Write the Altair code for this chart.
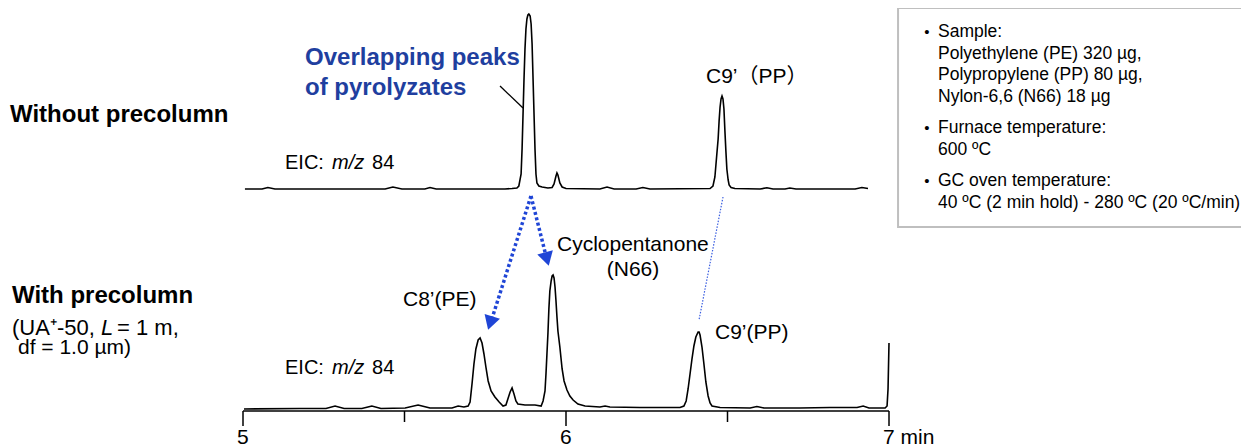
import altair as alt
import pandas as pd

# ---------------- data ----------------
# EIC m/z 84 without precolumn: retention time (min) and relative intensity
top_time = [5.006, 5.059, 5.077, 5.099, 5.440, 5.464, 5.492, 5.563, 5.579, 5.598,
            5.811, 5.833, 5.848, 5.854, 5.861, 5.864, 5.867, 5.870, 5.873, 5.876,
            5.879, 5.882, 5.885, 5.889, 5.892, 5.895, 5.898, 5.901, 5.904, 5.907,
            5.910, 5.916, 5.926, 5.944, 5.957, 5.963, 5.969, 5.972, 5.975, 5.981,
            5.988, 6.000, 6.105, 6.127, 6.149, 6.217, 6.238, 6.260, 6.446, 6.455,
            6.461, 6.467, 6.471, 6.474, 6.477, 6.480, 6.483, 6.486, 6.489, 6.492,
            6.495, 6.498, 6.502, 6.505, 6.511, 6.523, 6.601, 6.622, 6.641, 6.678,
            6.693, 6.712, 6.895, 6.916, 6.935]
top_int = [0, 0, 1.5, 0, 0, 2, 0, 0, 1.5, 0,
           0, 0.5, 1, 3, 15, 40, 75, 110, 140, 160,
           170, 174, 175, 173, 165, 145, 110, 75, 40, 15,
           6, 3, 2, 1, 1.5, 5, 13, 16, 14, 6,
           2, 0.5, 0, 2, 0, 0, 1.5, 0, 0.5, 3,
           12, 35, 50, 68, 82, 90, 93, 90, 80, 58,
           38, 20, 9, 4, 1.5, 0.5, 0, 1.2, 0, 0,
           1, 0, 0, 1.5, 0.5]

# EIC m/z 84 with precolumn
bot_time = [5.003, 5.176, 5.257, 5.285, 5.313, 5.368, 5.399, 5.427, 5.502, 5.542,
            5.579, 5.647, 5.666, 5.684, 5.697, 5.703, 5.709, 5.715, 5.721, 5.728,
            5.734, 5.740, 5.746, 5.752, 5.759, 5.768, 5.780, 5.793, 5.805, 5.814,
            5.820, 5.827, 5.833, 5.839, 5.845, 5.851, 5.873, 5.904, 5.923, 5.929,
            5.935, 5.938, 5.941, 5.944, 5.947, 5.950, 5.954, 5.957, 5.960, 5.963,
            5.966, 5.969, 5.972, 5.975, 5.981, 5.988, 5.994, 6.003, 6.012, 6.022,
            6.037, 6.059, 6.105, 6.121, 6.136, 6.229, 6.353, 6.365, 6.372, 6.378,
            6.384, 6.390, 6.396, 6.402, 6.409, 6.412, 6.415, 6.421, 6.427, 6.433,
            6.440, 6.446, 6.452, 6.477, 6.570, 6.591, 6.613, 6.724, 6.817, 6.901,
            6.920, 6.938, 6.988, 6.994, 6.997, 7.000]
bot_int = [0, 0.5, 0.5, 3, 0.5, 0.5, 3, 0.5, 1, 4,
           1, 1, 3, 2, 3, 7, 25, 45, 60, 69,
           71, 66, 55, 42, 28, 18, 12, 7, 3, 4,
           10, 17, 21, 15, 8, 5, 4, 4, 3, 8,
           18, 35, 55, 75, 100, 118, 128, 133, 134, 131,
           122, 108, 92, 78, 62, 40, 28, 19, 13, 9,
           5, 3, 2, 3, 2, 1.5, 1.5, 3, 8, 20,
           35, 50, 63, 72, 77, 77, 74, 62, 45, 27,
           13, 6, 3, 1.5, 1, 2.5, 1, 1, 1.5, 1.5,
           3, 1, 1, 3, 20, 66]

major_ticks = [5, 6, 7]
minor_ticks = [5.5, 6.5]
tick_labels = ["5", "6", "7 min"]

legend_lines = ["Sample:", "Polyethylene (PE) 320 µg,", "Polypropylene (PP) 80 µg,",
                "Nylon-6,6 (N66) 18 µg", "Furnace temperature:", "600 ºC",
                "GC oven temperature:", "40 ºC (2 min hold) - 280 ºC (20 ºC/min)"]

# ---------------- layout constants ----------------
TOP_OFFSET = 222
BOT_OFFSET = 2
FONT = "Liberation Sans, Arial, Helvetica, sans-serif"
CJK = "Liberation Sans, Noto Sans CJK JP, sans-serif"
BLUE_TXT = "#1f3f9f"
BLUE_ARW = "#1f45d6"

XS = alt.Scale(domain=[5, 7], nice=False, zero=False)
YS = alt.Scale(domain=[0, 403], nice=False, zero=False)


def X(field="x"):
    return alt.X(f"{field}:Q", scale=XS, axis=None)


def Y(field="y"):
    return alt.Y(f"{field}:Q", scale=YS, axis=None)


top_df = pd.DataFrame({"x": top_time, "i": top_int})
bot_df = pd.DataFrame({"x": bot_time, "i": bot_int})

bot_line = alt.Chart(bot_df).transform_calculate(y=f"datum.i + {BOT_OFFSET}").mark_line(
    color="black", strokeWidth=1.6).encode(x=X(), y=Y(), order="x:Q")
top_line = alt.Chart(top_df).transform_calculate(y=f"datum.i + {TOP_OFFSET}").mark_line(
    color="black", strokeWidth=1.6).encode(x=X(), y=Y(), order="x:Q")

# time axis drawn with rules on the shared scales
dom_df = pd.DataFrame({"x": [min(major_ticks)], "x2": [max(major_ticks)], "y": [0]})
domain = alt.Chart(dom_df).mark_rule(color="black", strokeWidth=1.5).encode(
    x=X(), x2="x2:Q", y=Y())
maj_df = pd.DataFrame({"x": major_ticks, "y": [0] * 3})
maj = alt.Chart(maj_df).mark_rule(color="black", strokeWidth=1.5).encode(
    x=X(), y=Y(), y2=alt.datum(-15))
min_df = pd.DataFrame({"x": minor_ticks, "y": [0] * 2})
mnr = alt.Chart(min_df).mark_rule(color="black", strokeWidth=1.5).encode(
    x=X(), y=Y(), y2=alt.datum(-11))

# legend box
box_df = pd.DataFrame({"x": [7.028], "x2": [8.093], "y": [403], "y2": [184]})
box = alt.Chart(box_df).mark_rect(fill="white", stroke="#bfbfbf", strokeWidth=2).encode(
    x=X(), x2="x2:Q", y=Y(), y2="y2:Q")

legend_y = [379, 357.5, 336, 314.5, 283, 261, 230, 208]
leg_df = pd.DataFrame({"x": [7.1517] * len(legend_lines), "y": legend_y, "label": legend_lines})
bullet_df = pd.DataFrame({"x": [7.1176] * 3, "y": [379, 283, 230], "label": ["•"] * 3})


def texts(rows, **kw):
    df = pd.DataFrame(rows, columns=["x", "y", "label"])
    base = dict(font=FONT, baseline="middle", align="left", color="black")
    base.update(kw)
    return alt.Chart(df).mark_text(**base).encode(x=X(), y=Y(), text="label:N")


leg_text = alt.Chart(leg_df).mark_text(font=FONT, fontSize=17.5, align="left",
                                       baseline="middle", color="black").encode(
    x=X(), y=Y(), text="label:N")
bullets = alt.Chart(bullet_df).mark_text(font=FONT, fontSize=15, align="center",
                                         baseline="middle", color="black").encode(
    x=X(), y=Y(), text="label:N")

titles = texts([(4.2786, 296, "Without precolumn"), (4.2848, 115, "With precolumn")],
               fontSize=24, fontWeight="bold")
sub_reg = texts([(4.2848, 83, "(UA⁺-50,"), (4.6099, 83, "= 1 m,")], fontSize=22)
sub_df = texts([(4.3034, 63, "df = 1.0 µm)")], fontSize=21)
sub_it = texts([(4.5604, 83, "L")], fontSize=22, fontStyle="italic")

overlap = texts([(5.192, 353, "Overlapping peaks"), (5.192, 323, "of pyrolyzates")],
                fontSize=24, fontWeight="bold", color=BLUE_TXT)

eic_reg = texts([(5.130, 248, "EIC:"), (5.3994, 248, "84"),
                 (5.130, 43, "EIC:"), (5.3994, 43, "84")], fontSize=20)
eic_it = texts([(5.2755, 248, "m/z"), (5.2755, 43, "m/z")], fontSize=20, fontStyle="italic")

peak_lbl = texts([(5.9721, 166, "Cyclopentanone"), (5.4954, 111, "C8’(PE)"),
                  (6.4613, 78, "C9’(PP)")], fontSize=21)
n66 = texts([(6.2074, 141, "(N66)")], fontSize=21, align="center")
c9top = texts([(6.4334, 334, "C9’（PP）")], fontSize=21, font=CJK)

ax_lbl_df = pd.DataFrame({"x": major_ticks, "y": [-27] * 3, "label": tick_labels})
ax_lbl = alt.Chart(ax_lbl_df).mark_text(font=FONT, fontSize=21, baseline="middle",
                                        align="left", dx=-6, color="black").encode(
    x=X(), y=Y(), text="label:N")

# leader line & arrows
lead_df = pd.DataFrame({"x": [5.7957], "y": [325], "x2": [5.8669], "y2": [303]})
lead = alt.Chart(lead_df).mark_rule(color="black", strokeWidth=1.3).encode(
    x=X(), y=Y(), x2="x2:Q", y2="y2:Q")

arr_df = pd.DataFrame({"x": [5.8916, 5.8916], "y": [215, 215],
                       "x2": [5.7665, 5.9405], "y2": [88, 152]})
arrows = alt.Chart(arr_df).mark_rule(color=BLUE_ARW, strokeWidth=3.5,
                                     strokeDash=[3, 2.5]).encode(
    x=X(), y=Y(), x2="x2:Q", y2="y2:Q")
head_df = pd.DataFrame({"x": [5.7653, 5.9409], "y": [88, 152], "a": [197.5, 164.6]})
heads = alt.Chart(head_df).mark_point(shape="triangle-up", filled=True, size=260,
                                      color=BLUE_ARW, opacity=1).encode(
    x=X(), y=Y(), angle=alt.Angle("a:Q", scale=None))

thin_df = pd.DataFrame({"x": [6.4861], "y": [214], "x2": [6.4118], "y2": [91]})
thin = alt.Chart(thin_df).mark_rule(color="#3a5ee0", strokeWidth=1.2,
                                    strokeDash=[1.5, 1.5]).encode(
    x=X(), y=Y(), x2="x2:Q", y2="y2:Q")

chart = alt.layer(
    box, domain, maj, mnr, bot_line, top_line, lead, arrows, heads, thin,
    leg_text, bullets, titles, sub_reg, sub_df, sub_it, overlap, eic_reg, eic_it,
    peak_lbl, n66, c9top, ax_lbl
).properties(
    width=646, height=403,
    padding={"left": 235, "right": 352, "top": 0, "bottom": 34},
    autosize=alt.AutoSizeParams(type="none"),
    background="white",
).configure_view(strokeWidth=0, stroke="transparent")

chart.save("out.html", embed_options={"renderer": "svg", "actions": False})
